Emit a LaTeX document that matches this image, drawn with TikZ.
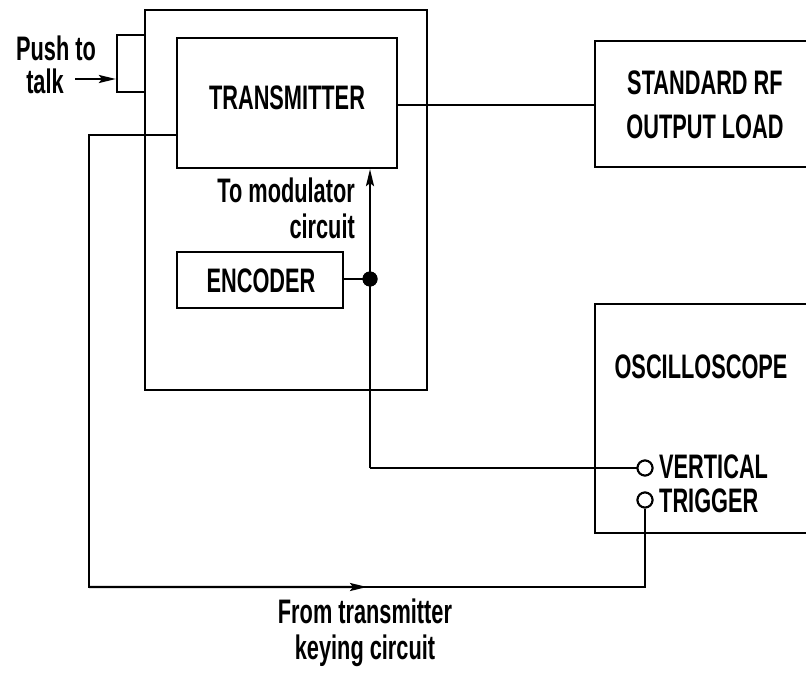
\documentclass[tikz,border=0pt]{standalone}
\usepackage{fontspec}
\setmainfont{Liberation Sans}[FakeStretch=0.64]
\usetikzlibrary{arrows.meta,calc}
\tikzset{
  box/.style={draw, line width=2.2bp, inner sep=0pt, rectangle},
  wire/.style={line width=2.2bp},
  arr/.style={wire, -{Stealth[length=17bp,width=8bp,inset=3bp]}},
  lbl/.style={inner sep=0pt, font=\fontsize{34bp}{38bp}\selectfont\bfseries},
  term/.style={draw, circle, line width=2bp, fill=white, minimum size=15bp, inner sep=0pt},
  dot/.style={circle, fill=black, minimum size=15bp, inner sep=0pt}
}
\begin{document}
\begin{tikzpicture}[x=1bp,y=-1bp]
\useasboundingbox (0,0) rectangle (806,673);
% boxes
\node[box, minimum width=282bp, minimum height=380bp] (outer) at (286,200) {};
\node[box, minimum width=28bp, minimum height=57bp] (ptt) at (131,63.5) {};
\node[box, minimum width=220bp, minimum height=130bp, fill=white] (tx) at (287,103) {};
\node[lbl] (txl) at (287,98) {TRANSMITTER};
\node[box, minimum width=166bp, minimum height=56bp] (enc) at (260,280) {};
\node[lbl] (encl) at (261,281) {ENCODER};
\node[box, minimum width=225bp, minimum height=126bp] (rf) at (707.5,104) {};
\node[lbl, align=center, font=\fontsize{34bp}{44bp}\selectfont\bfseries] (rfl) at (705,105) {STANDARD RF\\OUTPUT LOAD};
\node[box, minimum width=225bp, minimum height=229bp] (osc) at (707.5,418.5) {};
\node[lbl] (oscl) at (701,367) {OSCILLOSCOPE};
% terminals
\node[term] (vert) at (645,468) {};
\node[term] (trig) at (645,500) {};
\node[lbl, anchor=west] (vertl) at (659,467) {VERTICAL};
\node[lbl, anchor=west] (trigl) at (659,501) {TRIGGER};
% junction
\node[dot] (jn) at (370,279) {};
% labels
\node[lbl] (push) at (56,48) {Push to};
\node[lbl] (talk) at (45,81) {talk};
\node[lbl, align=right, anchor=north east, font=\fontsize{34bp}{36bp}\selectfont\bfseries] (mod) at (355,178) {To modulator\\circuit};
\node[lbl, align=center, font=\fontsize{34bp}{36bp}\selectfont\bfseries] (key) at (365,633) {From transmitter\\keying circuit};
% coordinates
\coordinate (pa) at (75,79);
\coordinate (k1) at (177,135);
\coordinate (k2) at (89,135);
\coordinate (k3) at (89,587);
\coordinate (k4) at (645,587);
\coordinate (v1) at (370,468);
% connectors
\draw[wire] (tx.east |- 0,105) -- (rf.west |- 0,105);
\draw[arr] (pa) -- (ptt.west |- pa);
\draw[wire] (k1) -- (k2) -- (k3) -- (k4) -- (trig.south);
\draw[arr] (k3) -- ($(k3)!0.5!(k4)$);
\draw[wire] (enc.east |- jn) -- (jn.center);
\draw[arr] (v1) -- (tx.south -| v1);
\draw[wire] (v1) -- (vert.west);
\node[dot] at (jn) {};
\node[term] at (vert) {};
\node[term] at (trig) {};
\end{tikzpicture}
\end{document}
